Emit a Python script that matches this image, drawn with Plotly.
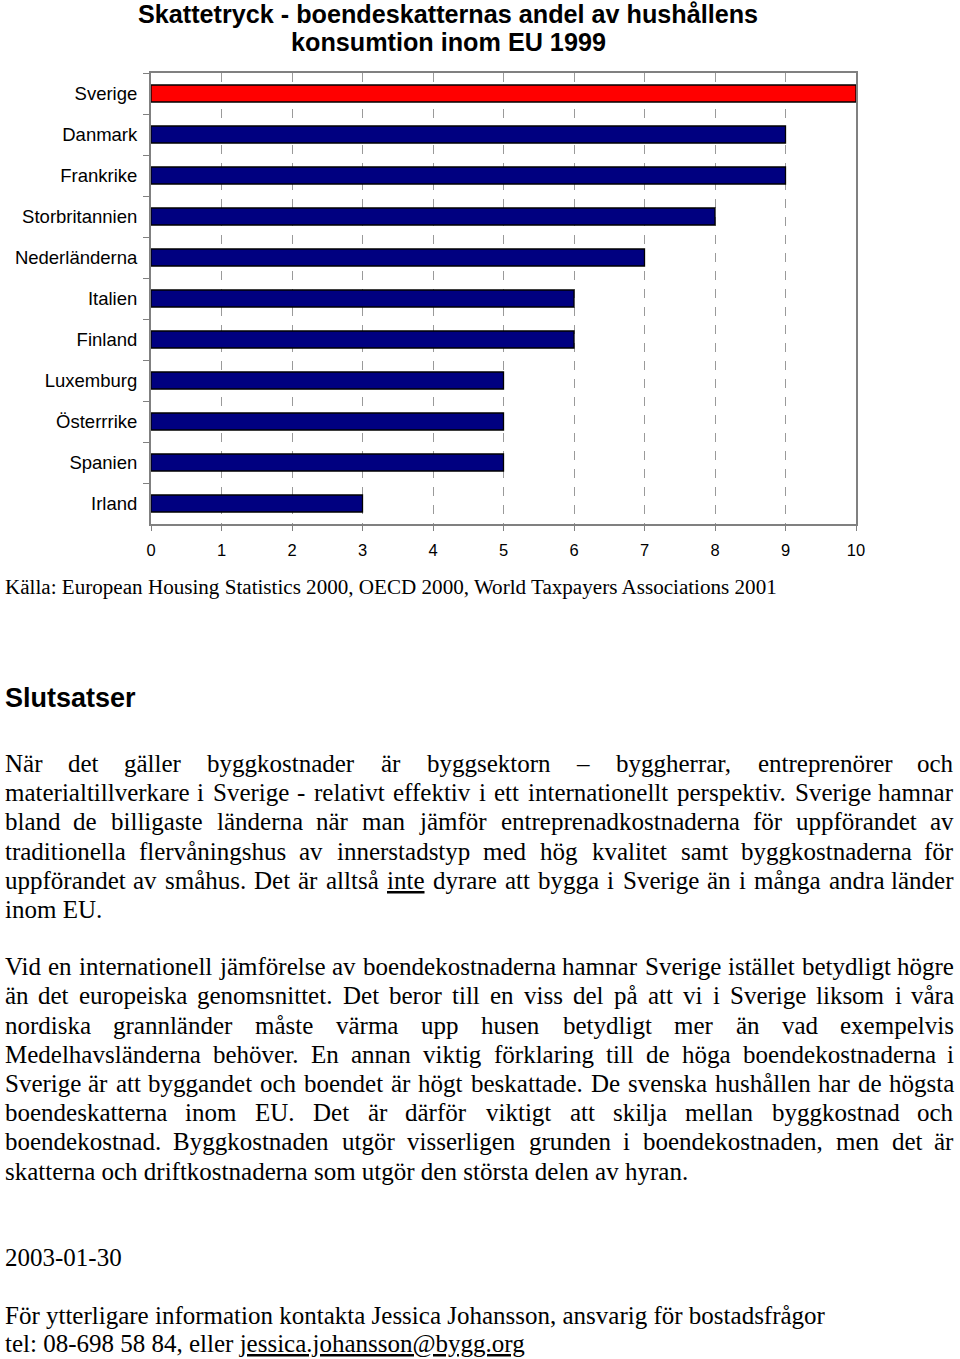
import plotly.graph_objects as go

# ---------------- data ----------------
countries = ["Sverige", "Danmark", "Frankrike", "Storbritannien", "Nederländerna",
             "Italien", "Finland", "Luxemburg", "Österrrike", "Spanien", "Irland"]
values = [10, 9, 9, 8, 7, 6, 6, 5, 5, 5, 3]
x_ticks = list(range(0, 11))

title_lines = ["Skattetryck - boendeskatternas andel av hushållens",
               "konsumtion inom EU 1999"]
source_text = "Källa: European Housing Statistics 2000, OECD 2000, World Taxpayers Associations 2001"
heading_text = "Slutsatser"

para1 = [
    "När det gäller byggkostnader är byggsektorn – byggherrar, entreprenörer och",
    "materialtillverkare i Sverige - relativt effektiv i ett internationellt perspektiv. Sverige hamnar",
    "bland de billigaste länderna när man jämför entreprenadkostnaderna för uppförandet av",
    "traditionella flervåningshus av innerstadstyp med hög kvalitet samt byggkostnaderna för",
    "uppförandet av småhus. Det är alltså <u>inte</u> dyrare att bygga i Sverige än i många andra länder",
    "inom EU.",
]
para2 = [
    "Vid en internationell jämförelse av boendekostnaderna hamnar Sverige istället betydligt högre",
    "än det europeiska genomsnittet. Det beror till en viss del på att vi i Sverige liksom i våra",
    "nordiska grannländer måste värma upp husen betydligt mer än vad exempelvis",
    "Medelhavsländerna behöver. En annan viktig förklaring till de höga boendekostnaderna i",
    "Sverige är att byggandet och boendet är högt beskattade. De svenska hushållen har de högsta",
    "boendeskatterna inom EU. Det är därför viktigt att skilja mellan byggkostnad och",
    "boendekostnad. Byggkostnaden utgör visserligen grunden i boendekostnaden, men det är",
    "skatterna och driftkostnaderna som utgör den största delen av hyran.",
]
date_text = "2003-01-30"
contact_lines = [
    "För ytterligare information kontakta Jessica Johansson, ansvarig för bostadsfrågor",
    "tel: 08-698 58 84, eller <u>jessica.johansson@bygg.org</u>",
]

# ---------------- style ----------------
W, H = 960, 1359
SANS = "Liberation Sans, Arial, sans-serif"
SERIF = "Liberation Serif, Times New Roman, serif"
BODY = 25.0

colors = ["#FF0000" if c == "Sverige" else "#000080" for c in countries]

fig = go.Figure(go.Bar(
    x=values, y=countries, orientation="h",
    marker=dict(color=colors, line=dict(color="black", width=1.3)),
    hoverinfo="skip",
))

fig.update_layout(
    template="none",
    width=W, height=H,
    margin=dict(l=0, r=0, t=0, b=0, pad=0, autoexpand=False),
    paper_bgcolor="white", plot_bgcolor="white",
    showlegend=False, bargap=0.585,
    xaxis=dict(
        domain=[151 / W, 856 / W], range=[0, 10], tickvals=x_ticks,
        showgrid=True, gridcolor="#9a9a9a", gridwidth=1, griddash="dash",
        showline=True, linecolor="#808080", linewidth=2, mirror=True,
        ticks="outside", ticklen=5, tickcolor="#808080", tickwidth=1,
        tickfont=dict(family=SANS, size=16.5, color="black"),
        zeroline=False, ticklabelstandoff=5, fixedrange=True, automargin=False,
    ),
    yaxis=dict(
        domain=[1 - 524 / H, 1 - 73 / H], autorange="reversed",
        tickson="boundaries", ticks="outside", ticklen=6, tickcolor="#808080",
        showline=True, linecolor="#808080", linewidth=2, mirror=True,
        showgrid=False, zeroline=False,
        tickfont=dict(family=SANS, size=18.5, color="black"),
        ticklabelstandoff=8, fixedrange=True, automargin=False,
    ),
)

# Times metrics (per 1000 em)
TIMES = {}
for ch, w in zip("abcdefghijklmnopqrstuvwxyz",
                 [444, 500, 444, 500, 444, 333, 500, 500, 278, 278, 500, 278, 778,
                  500, 500, 500, 500, 333, 389, 278, 500, 500, 722, 500, 500, 444]):
    TIMES[ch] = w
for ch, w in zip("ABCDEFGHIJKLMNOPQRSTUVWXYZ",
                 [722, 667, 667, 722, 611, 556, 722, 722, 333, 389, 722, 611, 889,
                  722, 722, 556, 722, 667, 556, 611, 722, 722, 944, 722, 722, 611]):
    TIMES[ch] = w
TIMES.update({"å": 444, "ä": 444, "ö": 500, "Å": 722, "Ä": 722, "Ö": 722,
              " ": 250, ".": 250, ",": 250, "-": 333, "–": 500, ":": 278,
              "@": 921})
for d in "0123456789":
    TIMES[d] = 500


def strip_tags(s):
    return s.replace("<u>", "").replace("</u>", "")


def tw(s, size):
    return sum(TIMES.get(c, 500) for c in strip_tags(s)) / 1000 * size


def ann(text, x, y, size, family=SERIF, xanchor="left", bold=False):
    if bold:
        text = "<b>" + text + "</b>"
    fig.add_annotation(text=text, x=x / W, y=1 - y / H, xref="paper", yref="paper",
                       xanchor=xanchor, yanchor="middle", showarrow=False,
                       font=dict(family=family, size=size, color="black"),
                       borderpad=0)


LEFT, RIGHT = 4, 955


def justified(line, y, size=BODY):
    words = line.split(" ")
    widths = [tw(w, size) for w in words]
    gap = (RIGHT - LEFT - sum(widths)) / (len(words) - 1)
    x = LEFT
    for i, (w, wd) in enumerate(zip(words, widths)):
        if i == 0:
            ann(w, LEFT, y, size, xanchor="left")
        elif i == len(words) - 1:
            ann(w, RIGHT, y, size, xanchor="right")
        else:
            ann(w, x + wd / 2, y, size, xanchor="center")
        x += wd + gap


# title
ann(title_lines[0], 448, 14, 25.2, family=SANS, xanchor="center", bold=True)
ann(title_lines[1], 448, 42, 25.2, family=SANS, xanchor="center", bold=True)

# source
ann(source_text, LEFT, 587, 21.1)

# heading
ann(heading_text, LEFT, 698, 27, family=SANS, bold=True)

STEP = 29.2
for i, line in enumerate(para1):
    y = 763.4 + i * STEP
    if i < len(para1) - 1:
        justified(line, y)
    else:
        ann(line, LEFT, y, BODY)

for i, line in enumerate(para2):
    y = 966.7 + i * STEP
    if i < len(para2) - 1:
        justified(line, y)
    else:
        ann(line, LEFT, y, BODY)

ann(date_text, LEFT, 1257, BODY)
ann(contact_lines[0], LEFT, 1315, BODY)
ann(contact_lines[1], LEFT, 1344, BODY)

fig.write_html("out.html")
